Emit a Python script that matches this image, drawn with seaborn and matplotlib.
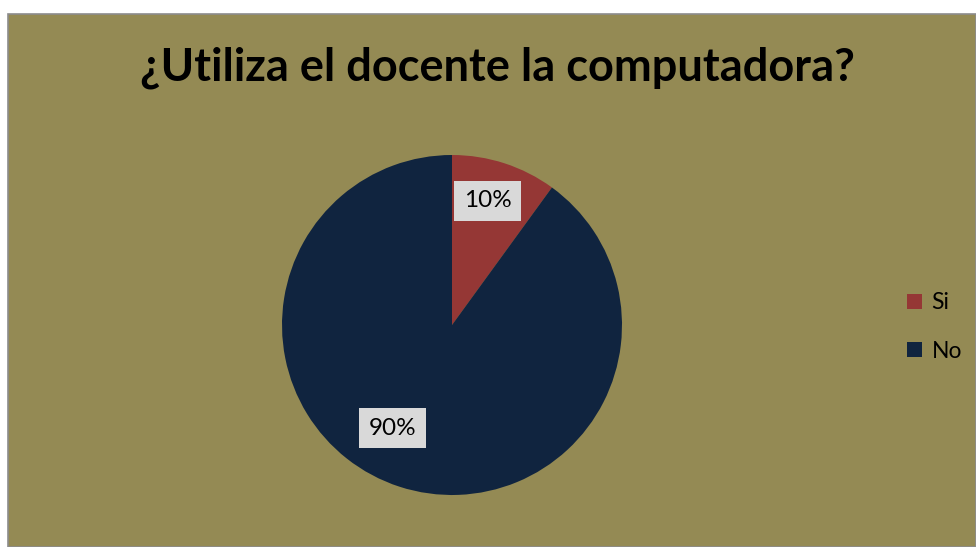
import numpy as np
import matplotlib
matplotlib.use("Agg")
import matplotlib.pyplot as plt
import seaborn as sns

# data
categories = ["Si", "No"]
values = [10, 90]
pct_labels = ["10%", "90%"]

sns.set_theme(style="white")
plt.rcParams['font.family'] = ['Lato', 'DejaVu Sans']

bg = "#948A54"
colors = ["#953735", "#10243F"]

fig = plt.figure(figsize=(9.76, 5.47), dpi=100)
W, H = 976, 547

# chart area (background with a grey frame on top/left)
frame = plt.Rectangle((8 / W, 0), 1 - 8 / W, 1 - 14 / H, transform=fig.transFigure,
                      facecolor=bg, edgecolor="#8C8C8C", linewidth=1.2, zorder=-10)
fig.patches.append(frame)

fig.text(497 / W, 1 - 68 / H, "¿Utiliza el docente la computadora?",
         ha="center", va="center", fontsize=32.5, fontweight="bold", color="black")

# pie
cx, cy, r = 452, 325, 170
ax = fig.add_axes([(cx - r) / W, (H - cy - r) / H, 2 * r / W, 2 * r / H])
ax.set_zorder(5)
ax.patch.set_visible(False)
wedges, _ = ax.pie(values, colors=colors, startangle=90, counterclock=False,
                   radius=1, wedgeprops=dict(linewidth=0))
ax.set_xlim(-1, 1)
ax.set_ylim(-1, 1)
ax.set_aspect("equal")
ax.axis("off")

# label positions (angle in degrees, distance as fraction of radius)
label_pos = [(74, 0.76), (-120, 0.70)]
for lab, (ang, d) in zip(pct_labels, label_pos):
    a = np.deg2rad(ang)
    ax.text(d * np.cos(a), d * np.sin(a), lab, ha="center", va="center",
            fontsize=17.5, color="black",
            bbox=dict(boxstyle="square,pad=0.4", facecolor="#D9D9D9", edgecolor="none"))

# legend
handles = [plt.Rectangle((0, 0), 1, 1, facecolor=c, edgecolor="none") for c in colors]
leg = fig.legend(handles, categories, loc="center left", bbox_to_anchor=(896 / W, 1 - 327 / H),
                 frameon=False, fontsize=16.5, handlelength=0.65, handleheight=0.65,
                 handletextpad=0.4, labelspacing=1.2, borderpad=0)
for t in leg.get_texts():
    t.set_color("black")

fig.savefig("out.png", dpi=100)
